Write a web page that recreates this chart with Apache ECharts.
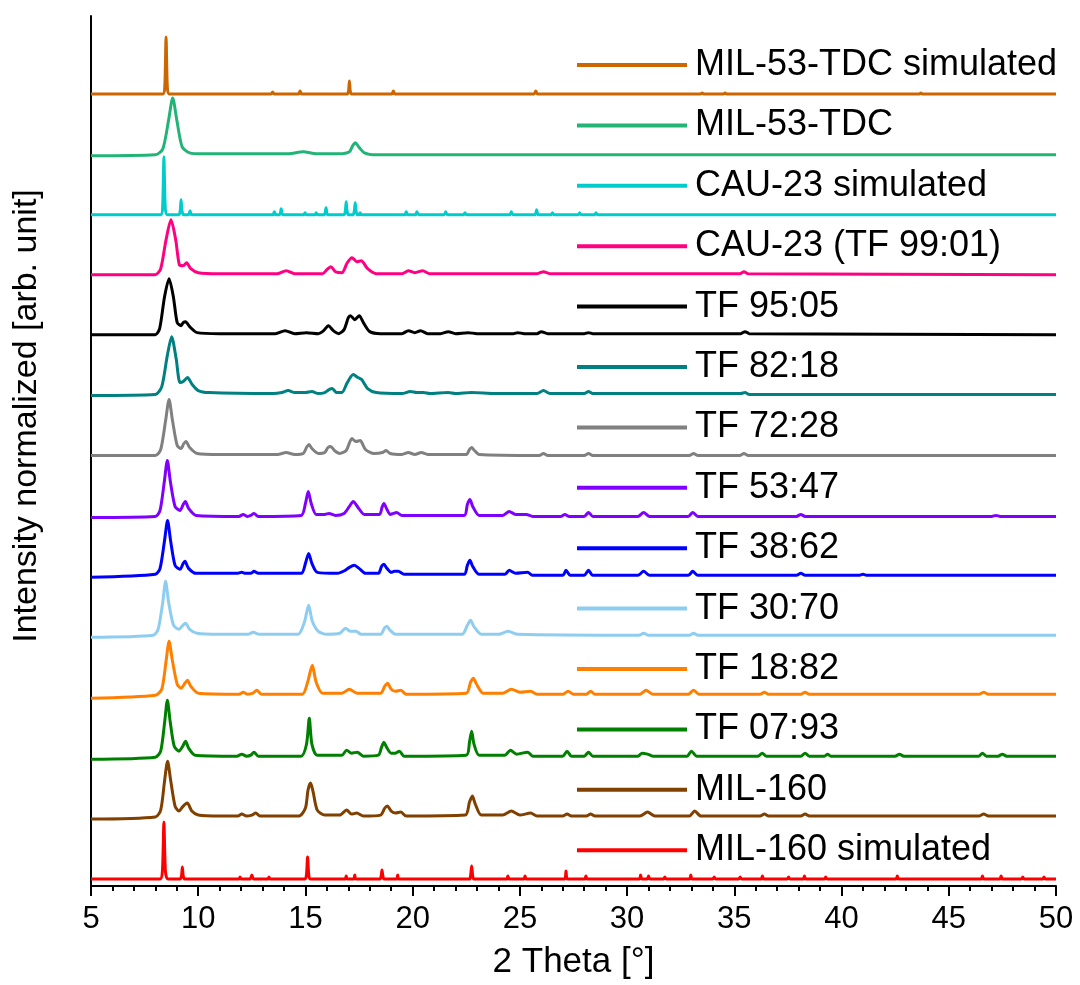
<!DOCTYPE html>
<html>
<head>
<meta charset="utf-8">
<script src="https://cdn.jsdelivr.net/npm/echarts@6/dist/echarts.min.js"></script>
<style>
  html, body { margin: 0; padding: 0; background: #fff; }
  #main { width: 1080px; height: 985px; }
</style>
</head>
<body>
<div id="main"></div>
<script>
// profiles: flat lists x, y, x, y ... (y = height above the pattern's own baseline)
var mil53Sim = [5,0, 8.35,0, 8.44,7, 8.5,57, 8.56,7, 8.65,0, 13.4,0, 13.47,2, 13.54,0, 14.68,0, 14.75,3, 14.82,0, 16.95,0, 17.01,3, 17.05,13, 17.09,3, 17.15,0, 19.03,0, 19.1,3, 19.17,0, 25.66,0, 25.74,3, 25.82,0, 33.43,0, 33.5,1, 33.57,0, 34.5,0, 34.57,1, 34.64,0, 43.63,0, 43.7,1, 43.77,0, 50,0];
var mil53 = [5,-1, 8,0, 8.35,6, 8.62,35, 8.81,57, 9,35, 9.25,8, 9.6,2, 10.2,1, 14.2,1, 14.9,3, 15.5,1, 16.6,1, 17.05,3, 17.2,9, 17.33,12, 17.48,8, 17.75,2, 18.3,0, 50,0];
var cau23Sim = [5,0, 8.25,0, 8.34,8, 8.4,58, 8.46,8, 8.55,0, 9.1,0, 9.16,4, 9.2,15, 9.24,4, 9.32,0, 9.55,0, 9.62,4, 9.69,0, 13.48,0, 13.55,3, 13.62,0, 13.8,0, 13.87,6, 13.94,0, 14.92,0, 14.98,2, 15.04,0, 15.44,0, 15.5,2, 15.56,0, 15.88,0, 15.96,7, 16.04,0, 16.8,0, 16.86,4, 16.9,13, 16.94,4, 17,0, 17.22,0, 17.28,4, 17.32,12, 17.36,4, 17.42,0, 17.5,0, 17.55,2, 17.6,0, 19.63,0, 19.7,3, 19.77,0, 20.13,0, 20.2,3, 20.27,0, 21.47,0, 21.54,3, 21.61,0, 22.37,0, 22.44,2, 22.51,0, 24.53,0, 24.6,3, 24.67,0, 25.7,0, 25.78,5, 25.86,0, 26.45,0, 26.52,2, 26.59,0, 27.72,0, 27.79,2, 27.86,0, 28.48,0, 28.55,2, 28.62,0, 50,0];
var cau23 = [5,0, 8,0, 8.25,6, 8.5,35, 8.73,55, 8.95,35, 9.12,10, 9.3,9, 9.46,12, 9.65,6, 10,2, 11,1, 13.7,1, 14.1,4, 14.5,1, 15.8,1, 16,5, 16.18,8, 16.4,3, 16.7,2, 16.95,12, 17.17,17, 17.4,13, 17.6,14, 17.9,6, 18.3,1, 19.5,1, 19.8,4, 20.1,2, 20.47,4, 20.8,1, 25.8,1, 26.1,3, 26.4,1, 35.25,1, 35.45,3, 35.65,1, 50,0];
var tf9505 = [5,0, 8,0, 8.2,6, 8.43,38, 8.64,56, 8.84,38, 9.02,12, 9.2,9, 9.3,12, 9.41,13, 9.6,8, 9.95,2, 11,1, 13.6,1, 14.05,4, 14.5,1, 15.05,2, 15.6,1, 15.85,4, 16.07,9, 16.3,4, 16.55,1, 16.8,5, 17,17, 17.1,19, 17.3,15, 17.51,19, 17.7,12, 18,3, 18.5,1, 19.5,1, 19.8,4, 20.1,2, 20.37,4, 20.7,1, 21.3,1, 21.66,3, 22,1, 22.58,2, 23,1, 24.7,1, 24.9,2, 25.2,1, 25.8,1, 26,3, 26.3,1, 28,1, 28.2,2, 28.4,1, 35.3,1, 35.5,3, 35.7,1, 50,0];
var tf8218 = [5,-1, 8,0, 8.3,8, 8.55,38, 8.76,58, 8.97,36, 9.15,12, 9.3,13, 9.5,17, 9.72,10, 10,4, 10.5,2, 13.5,1, 13.9,2, 14.2,4, 14.5,2, 15,2, 15.3,3, 15.6,1, 15.9,2, 16.1,5, 16.25,6, 16.45,2, 16.7,2, 16.95,12, 17.23,20, 17.45,17, 17.62,15, 17.9,6, 18.3,2, 19.5,1, 19.88,3, 20.2,2, 20.5,2, 20.8,1, 21.65,2, 22,1, 22.75,2, 23.84,1, 25.8,1, 26.1,4, 26.4,1, 28,1, 28.2,3, 28.4,1, 35.3,1, 35.5,2, 35.7,0, 50,0];
var tf7228 = [5,0, 8,0, 8.25,6, 8.48,35, 8.64,56, 8.8,35, 9.02,10, 9.2,7, 9.33,12, 9.43,14, 9.6,8, 9.95,2, 11,1, 13.7,1, 14.1,3, 14.5,1, 14.9,2, 15.05,8, 15.17,11, 15.3,7, 15.6,2, 15.9,3, 16.05,8, 16.18,9, 16.35,5, 16.6,2, 16.9,5, 17.17,17, 17.35,14, 17.55,15, 17.8,6, 18.2,2, 18.6,3, 18.76,5, 18.95,2, 19.5,1, 19.8,3, 20.1,1, 20.4,3, 20.7,1, 22.5,1, 22.65,6, 22.75,8, 22.88,5, 23.1,1, 25.9,0, 26.1,2, 26.3,0, 28,0, 28.2,2, 28.4,0, 32.9,0, 33.1,2, 33.3,0, 35.25,0, 35.45,2, 35.65,0, 50,0];
var tf5347 = [5,-1, 8,0, 8.22,6, 8.42,35, 8.56,56, 8.7,35, 8.92,10, 9.15,6, 9.3,12, 9.4,15, 9.55,8, 9.9,1, 11.9,0, 12.1,2, 12.3,0, 12.45,1, 12.6,3, 12.8,0, 14.8,1, 15,13, 15.13,25, 15.27,13, 15.5,2, 15.9,2, 16.1,3, 16.4,1, 16.8,3, 17.05,10, 17.23,15, 17.45,9, 17.75,2, 18.45,2, 18.57,9, 18.66,13, 18.78,8, 18.95,2, 19.1,3, 19.25,4, 19.5,1, 22.4,1, 22.55,12, 22.67,17, 22.8,10, 23.1,1, 24.2,1, 24.5,5, 24.8,2, 25.3,2, 25.6,0, 26.9,0, 27.1,2, 27.3,0, 28,0, 28.2,4, 28.4,0, 30.5,0, 30.77,4, 31.05,0, 32.85,0, 33.06,4, 33.3,0, 37.9,0, 38.1,2, 38.3,0, 47,0, 47.2,1, 47.4,0, 50,0];
var tf3862 = [5,-2, 8,1, 8.22,7, 8.43,35, 8.57,55, 8.71,35, 8.92,10, 9.15,6, 9.3,12, 9.38,14, 9.55,7, 9.9,2, 11.8,2, 12.03,3, 12.2,2, 12.45,2, 12.6,4, 12.8,2, 14.8,2, 15,12, 15.15,22, 15.3,12, 15.55,3, 16.5,2, 16.85,5, 17.05,8, 17.28,10, 17.5,7, 17.8,2, 18.4,2, 18.55,9, 18.66,11, 18.8,7, 19,3, 19.15,4, 19.33,4, 19.6,1, 22.4,1, 22.55,10, 22.67,15, 22.8,9, 23.1,1, 24.3,1, 24.5,5, 24.8,2, 25.36,3, 25.6,0, 27,0, 27.15,5, 27.35,0, 28,0, 28.2,5, 28.4,0, 30.5,0, 30.77,4, 31.05,0, 32.85,0, 33.06,4, 33.3,0, 37.9,0, 38.1,2, 38.3,0, 40.8,0, 41,1, 41.2,0, 50,0];
var tf3070 = [5,-2, 7.9,0, 8.13,6, 8.34,32, 8.48,54, 8.62,33, 8.85,10, 9.1,6, 9.28,10, 9.41,12, 9.6,6, 9.95,2, 11,1, 12.3,1, 12.57,3, 12.85,1, 14.65,1, 14.95,13, 15.15,30, 15.32,14, 15.6,4, 16,1, 16.6,2, 16.87,7, 17.1,4, 17.36,4, 17.6,1, 18.5,1, 18.68,7, 18.79,9, 18.95,5, 19.2,1, 22.3,1, 22.55,10, 22.7,15, 22.85,9, 23.2,1, 24,1, 24.45,4, 24.9,1, 30.55,0, 30.77,2, 31,0, 32.9,0, 33.1,2, 33.3,0, 50,0];
var tf1882 = [5,-4, 8,-1, 8.3,5, 8.5,33, 8.64,53, 8.8,33, 9.02,10, 9.2,6, 9.38,11, 9.5,14, 9.65,8, 10,1, 11.9,0, 12.1,2, 12.3,0, 12.55,1, 12.73,4, 12.95,0, 14.85,0, 15.1,12, 15.32,29, 15.5,12, 15.8,1, 16.7,1, 17.05,5, 17.4,1, 18.5,1, 18.7,8, 18.83,11, 19,5, 19.2,3, 19.44,4, 19.7,0, 22.5,1, 22.7,12, 22.83,16, 22.98,10, 23.3,1, 24.2,1, 24.6,5, 25,2, 25.5,3, 25.8,0, 27,0, 27.25,3, 27.5,0, 28.1,0, 28.3,3, 28.5,0, 30.6,0, 30.88,4, 31.2,0, 32.85,0, 33.1,4, 33.35,0, 36.2,0, 36.4,2, 36.6,0, 38.1,0, 38.3,2, 38.5,0, 46.4,0, 46.63,2, 46.85,0, 50,0];
var tf0793 = [5,-3, 8,-1, 8.25,5, 8.44,35, 8.56,56, 8.69,35, 8.88,10, 9.1,5, 9.28,10, 9.41,15, 9.55,8, 9.85,1, 11.8,0, 12.03,2, 12.25,0, 12.45,1, 12.6,4, 12.8,0, 14.8,0, 15.05,12, 15.18,38, 15.3,12, 15.55,1, 16.7,1, 16.92,6, 17.15,3, 17.42,4, 17.7,0, 18.4,1, 18.55,9, 18.66,14, 18.78,9, 19,3, 19.2,3, 19.38,5, 19.6,0, 22.5,1, 22.65,14, 22.75,25, 22.86,12, 23.1,1, 24.3,1, 24.56,6, 24.85,2, 25.36,4, 25.6,0, 27,0, 27.2,5, 27.4,0, 28,0, 28.2,4, 28.4,0, 30.5,0, 30.7,3, 30.95,2, 31.2,0, 32.8,0, 33,5, 33.25,0, 36.1,0, 36.3,3, 36.5,0, 38.1,0, 38.3,3, 38.5,0, 39.2,0, 39.35,2, 39.5,0, 42.5,0, 42.7,2, 42.9,0, 46.4,0, 46.57,3, 46.75,0, 47.3,0, 47.5,2, 47.7,0, 50,0];
var mil160 = [5,-3, 8,-1, 8.25,6, 8.43,35, 8.57,55, 8.72,35, 8.92,10, 9.1,5, 9.3,10, 9.49,13, 9.7,5, 10,1, 11,0, 11.85,0, 12.03,2, 12.25,0, 12.5,1, 12.68,3, 12.9,0, 14.7,0, 15,8, 15.12,26, 15.24,33, 15.36,24, 15.55,6, 15.9,1, 16.6,1, 16.92,6, 17.15,2, 17.39,3, 17.7,0, 18.5,1, 18.7,8, 18.82,10, 19,5, 19.2,3, 19.44,4, 19.7,0, 22.45,1, 22.65,14, 22.78,20, 22.92,12, 23.2,1, 24.2,1, 24.6,5, 25,1, 25.5,3, 25.8,0, 27,0, 27.2,2, 27.4,0, 28.1,0, 28.3,2, 28.5,0, 30.6,0, 30.95,4, 31.3,0, 32.9,0, 33.15,5, 33.45,0, 36.2,0, 36.4,2, 36.6,0, 38.1,0, 38.3,2, 38.5,0, 46.4,0, 46.63,2, 46.85,0, 50,0];
var mil160Sim = [5,0, 8.22,0, 8.33,8, 8.4,57, 8.47,8, 8.58,0, 9.15,0, 9.22,3, 9.26,12, 9.3,3, 9.37,0, 11.9,0, 11.95,2, 12,0, 12.42,0, 12.5,4, 12.58,0, 13.25,0, 13.3,2, 13.35,0, 14.98,0, 15.05,5, 15.1,22, 15.15,5, 15.22,0, 16.85,0, 16.9,3, 16.95,0, 17.25,0, 17.3,4, 17.35,0, 18.48,0, 18.53,3, 18.57,9, 18.61,3, 18.66,0, 19.25,0, 19.3,4, 19.35,0, 22.65,0, 22.7,3, 22.75,13, 22.8,3, 22.85,0, 24.38,0, 24.44,3, 24.5,0, 25.18,0, 25.24,3, 25.3,0, 27.08,0, 27.15,8, 27.22,0, 28.02,0, 28.08,3, 28.14,0, 30.57,0, 30.63,4, 30.69,0, 30.94,0, 31,3, 31.06,0, 31.7,0, 31.76,2, 31.82,0, 32.91,0, 32.97,4, 33.03,0, 34,0, 34.06,2, 34.12,0, 35.21,0, 35.27,2, 35.33,0, 36.25,0, 36.31,3, 36.37,0, 37.47,0, 37.53,2, 37.59,0, 38.21,0, 38.27,3, 38.33,0, 39.2,0, 39.26,2, 39.32,0, 42.54,0, 42.6,3, 42.66,0, 46.51,0, 46.57,3, 46.63,0, 47.38,0, 47.44,3, 47.5,0, 48.39,0, 48.45,2, 48.51,0, 49.38,0, 49.44,2, 49.5,0, 50,0];

// top to bottom, as in the legend
var names = ['MIL-53-TDC simulated', 'MIL-53-TDC', 'CAU-23 simulated', 'CAU-23 (TF 99:01)', 'TF 95:05', 'TF 82:18', 'TF 72:28', 'TF 53:47', 'TF 38:62', 'TF 30:70', 'TF 18:82', 'TF 07:93', 'MIL-160', 'MIL-160 simulated'];
var profiles = [mil53Sim, mil53, cau23Sim, cau23, tf9505, tf8218, tf7228, tf5347, tf3862, tf3070, tf1882, tf0793, mil160, mil160Sim];
var offsets = [793, 732, 672, 612, 552, 492, 431, 370, 311, 251, 192, 130, 70, 7];
var colors = ['#cc6600', '#22b477', '#00cccc', '#ff0080', '#000000', '#008080', '#808080', '#8000ff', '#0000ff', '#8ecdf0', '#ff8000', '#008000', '#804000', '#ff0000'];

var font = 'Liberation Sans, Arial, sans-serif';

function toPoints(flat, off) {
    var pts = [];
    for (var i = 0; i < flat.length; i += 2) {
        pts.push([flat[i], flat[i + 1] + off]);
    }
    return pts;
}

var series = [];
for (var k = names.length - 1; k >= 0; k--) {
    series.push({
        name: names[k],
        type: 'line',
        data: toPoints(profiles[k], offsets[k]),
        showSymbol: false,
        symbol: 'none',
        smooth: 0.25,
        lineStyle: { color: colors[k], width: 3 },
        itemStyle: { color: colors[k] }
    });
}

var myChart = echarts.init(document.getElementById('main'));
var option = {
    animation: false,
    backgroundColor: '#fff',
    grid: { left: 91, right: 24, top: 16, bottom: 98 },
    legend: {
        data: names,
        orient: 'vertical',
        left: 572,
        top: 40,
        icon: 'rect',
        itemWidth: 110,
        itemHeight: 4,
        itemGap: 20.4,
        textStyle: { fontFamily: font, fontSize: 36, color: '#000', lineHeight: 40, padding: [0, 0, 0, 3] }
    },
    xAxis: {
        type: 'value',
        min: 5,
        max: 50,
        interval: 5,
        name: '2 Theta [°]',
        nameLocation: 'middle',
        nameGap: 59,
        nameTextStyle: { fontFamily: font, fontSize: 35, color: '#000' },
        axisLine: { lineStyle: { color: '#000', width: 2 } },
        axisTick: { length: 10, lineStyle: { color: '#000', width: 2 } },
        minorTick: { show: true, splitNumber: 5, length: 5, lineStyle: { color: '#000', width: 2 } },
        axisLabel: { fontFamily: font, fontSize: 31, color: '#000', margin: 18 },
        splitLine: { show: false }
    },
    yAxis: {
        type: 'value',
        min: 0,
        max: 871,
        name: 'Intensity normalized [arb. unit]',
        nameLocation: 'middle',
        nameGap: 47,
        nameTextStyle: { fontFamily: font, fontSize: 34, color: '#000', padding: [0, 0, 0, 70] },
        axisLine: { show: true, lineStyle: { color: '#000', width: 2 } },
        axisTick: { show: false },
        axisLabel: { show: false },
        splitLine: { show: false }
    },
    series: series
};
myChart.setOption(option);
</script>
</body>
</html>
